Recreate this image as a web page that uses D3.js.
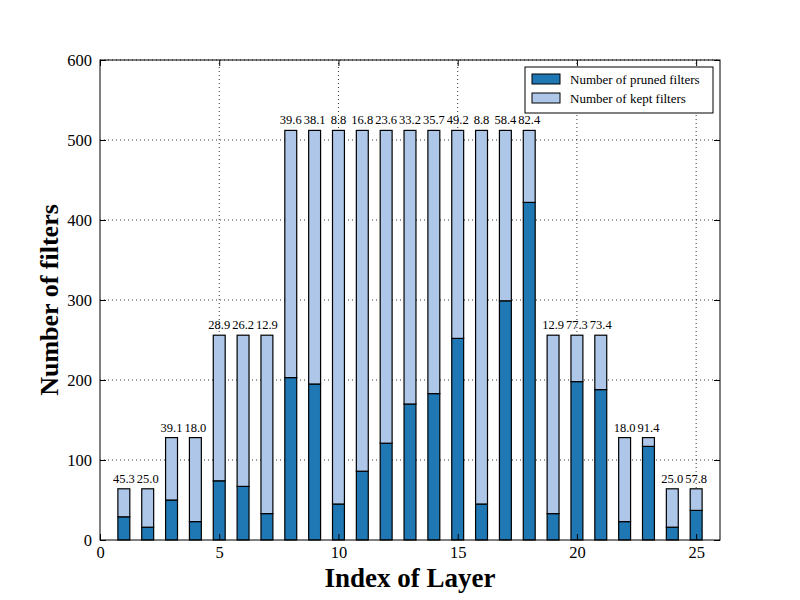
<!DOCTYPE html>
<html>
<head>
<meta charset="utf-8">
<script src="https://cdn.jsdelivr.net/npm/d3@7"></script>
<style>
body { margin: 0; background: #fff; }
text { font-family: "Liberation Serif", "DejaVu Serif", serif; }
</style>
</head>
<body>
<svg id="chart"></svg>
<script>
let w = 800
let h = 600

// layer index, filters in layer, pruned filters, label (% pruned)
let layers = d3.range(1, 26)
let totals = [64, 64, 128, 128, 256, 256, 256, 512, 512, 512, 512, 512, 512, 512, 512, 512, 512, 512, 256, 256, 256, 128, 128, 64, 64]
let pruned = [29, 16, 50, 23, 74, 67, 33, 203, 195, 45, 86, 121, 170, 183, 252, 45, 299, 422, 33, 198, 188, 23, 117, 16, 37]
let labels = ["45.3", "25.0", "39.1", "18.0", "28.9", "26.2", "12.9", "39.6", "38.1", "8.8", "16.8", "23.6", "33.2", "35.7", "49.2", "8.8", "58.4", "82.4", "12.9", "77.3", "73.4", "18.0", "91.4", "25.0", "57.8"]
let xTicks = [0, 5, 10, 15, 20, 25]
let yTicks = [0, 100, 200, 300, 400, 500, 600]

let margin = {left: 100, right: 80, top: 60, bottom: 60}

let svg = d3.select('#chart').attr('width', w).attr('height', h)

let x = d3.scaleLinear().domain([0, 26]).range([margin.left, w - margin.right])
let y = d3.scaleLinear().domain([0, 600]).range([h - margin.bottom, margin.top])

let prunedColor = '#1f77b4'
let keptColor = '#aec7e8'

// grid
svg.append('g').selectAll('line')
  .data(xTicks.slice(1))
  .join('line')
  .attr('x1', d => x(d)).attr('x2', d => x(d))
  .attr('y1', y(0)).attr('y2', y(600))
  .attr('stroke', '#000').attr('stroke-width', 0.8)
  .attr('stroke-dasharray', '1,3')
svg.append('g').selectAll('line')
  .data(yTicks.slice(1))
  .join('line')
  .attr('x1', x(0)).attr('x2', x(26))
  .attr('y1', d => y(d)).attr('y2', d => y(d))
  .attr('stroke', '#000').attr('stroke-width', 0.8)
  .attr('stroke-dasharray', '1,3')

let bw = x(0.5) - x(0)

let bars = svg.append('g')
bars.selectAll('rect.pruned')
  .data(layers)
  .join('rect')
  .attr('x', (d, i) => x(d) - bw / 2)
  .attr('width', bw)
  .attr('y', (d, i) => y(pruned[i]))
  .attr('height', (d, i) => y(0) - y(pruned[i]))
  .attr('fill', prunedColor)
  .attr('stroke', '#000').attr('stroke-width', 1.2)

bars.selectAll('rect.kept')
  .data(layers)
  .join('rect')
  .attr('x', (d, i) => x(d) - bw / 2)
  .attr('width', bw)
  .attr('y', (d, i) => y(totals[i]))
  .attr('height', (d, i) => y(pruned[i]) - y(totals[i]))
  .attr('fill', keptColor)
  .attr('stroke', '#000').attr('stroke-width', 1.2)

svg.append('g').selectAll('text')
  .data(layers)
  .join('text')
  .attr('x', d => x(d))
  .attr('y', (d, i) => y(totals[i]) - 6)
  .attr('text-anchor', 'middle')
  .attr('font-size', 12.5)
  .text((d, i) => labels[i])

// frame
svg.append('rect')
  .attr('x', x(0)).attr('y', y(600))
  .attr('width', x(26) - x(0)).attr('height', y(0) - y(600))
  .attr('fill', 'none').attr('stroke', '#000').attr('stroke-width', 1)

// axes, ticks inside like matplotlib classic
let xAxis = svg.append('g').attr('transform', `translate(0,${y(0)})`)
  .call(d3.axisBottom(x).tickValues(xTicks).tickSize(-6).tickPadding(6).tickFormat(d3.format('d')))
let xTop = svg.append('g').attr('transform', `translate(0,${y(600)})`)
  .call(d3.axisTop(x).tickValues(xTicks).tickSize(-6).tickFormat(''))
let yAxis = svg.append('g').attr('transform', `translate(${x(0)},0)`)
  .call(d3.axisLeft(y).tickValues(yTicks).tickSize(-6).tickPadding(8).tickFormat(d3.format('d')))
let yRight = svg.append('g').attr('transform', `translate(${x(26)},0)`)
  .call(d3.axisRight(y).tickValues(yTicks).tickSize(-6).tickFormat(''))
;[xAxis, xTop, yAxis, yRight].forEach(a => {
  a.select('.domain').remove()
  a.selectAll('text').attr('font-size', 16.5).attr('fill', '#000').style('font-family', '"Liberation Serif", serif')
})

svg.append('text')
  .attr('x', x(13)).attr('y', 587)
  .attr('text-anchor', 'middle')
  .attr('font-size', 27).attr('font-weight', 'bold')
  .text('Index of Layer')

svg.append('text')
  .attr('transform', `translate(58,${y(300)}) rotate(-90)`)
  .attr('text-anchor', 'middle')
  .attr('font-size', 26).attr('font-weight', 'bold')
  .text('Number of filters')

// legend
let lg = svg.append('g').attr('transform', 'translate(525,67)')
lg.append('rect').attr('width', 188).attr('height', 46)
  .attr('fill', '#fff').attr('stroke', '#000').attr('stroke-width', 1)
let items = [['Number of pruned filters', prunedColor], ['Number of kept filters', keptColor]]
items.forEach((it, i) => {
  lg.append('rect').attr('x', 7).attr('y', 7 + i * 19).attr('width', 28).attr('height', 10)
    .attr('fill', it[1]).attr('stroke', '#000').attr('stroke-width', 1)
  lg.append('text').attr('x', 45).attr('y', 17 + i * 19)
    .attr('font-size', 13).text(it[0])
})
</script>
</body>
</html>
